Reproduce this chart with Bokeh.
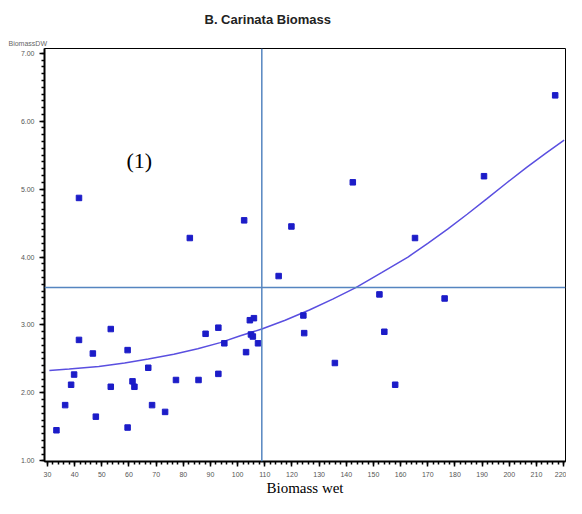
from bokeh.plotting import figure
from bokeh.models import Span, Label, SingleIntervalTicker, Range1d, Title
from bokeh.embed import file_html
from bokeh.resources import INLINE

# observed points: wet biomass vs dry biomass
wet = [33.3, 36.5, 38.7, 39.8, 41.6, 41.6, 46.7, 47.8, 53.3, 53.3, 59.5, 59.5,
       61.3, 62.0, 67.1, 68.5, 73.3, 77.3, 82.4, 85.6, 88.2, 92.9, 92.9, 95.1,
       102.4, 103.1, 104.5, 106.0, 104.9, 105.6, 107.5, 115.1, 119.8, 124.2,
       124.5, 135.8, 142.4, 152.2, 154.0, 158.0, 165.3, 176.2, 190.7, 216.9]
dry = [1.45, 1.82, 2.12, 2.27, 2.78, 4.87, 2.58, 1.65, 2.94, 2.09, 2.63, 1.49,
       2.17, 2.09, 2.37, 1.82, 1.72, 2.19, 4.28, 2.19, 2.87, 2.96, 2.28, 2.73,
       4.54, 2.60, 3.07, 3.10, 2.86, 2.83, 2.73, 3.72, 4.45, 3.14,
       2.88, 2.44, 5.10, 3.45, 2.90, 2.12, 4.28, 3.39, 5.19, 6.38]

# fitted curve
fit_x = [30.7, 38.0, 48.9, 58.4, 67.1, 76.5, 85.3, 93.6, 101.0, 108.9, 117.5,
         126.4, 135.0, 143.5, 153.0, 162.7, 170.0, 177.3, 184.5, 191.8, 199.0,
         206.4, 213.5, 220.2]
fit_y = [2.33, 2.35, 2.39, 2.44, 2.50, 2.57, 2.65, 2.74, 2.84, 2.94, 3.07,
         3.22, 3.38, 3.55, 3.77, 4.00, 4.20, 4.41, 4.63, 4.86, 5.09,
         5.32, 5.53, 5.72]

# reference lines
ref_x = [108.9]
ref_y = [3.55]

y_ticks = [1, 2, 3, 4, 5, 6, 7]
y_tick_labels = ["1.00", "2.00", "3.00", "4.00", "5.00", "6.00", "7.00"]

p = figure(width=566, height=498, output_backend="svg", toolbar_location=None,
           x_range=Range1d(28.9, 220.7), y_range=Range1d(0.99, 7.07),
           min_border_left=44, min_border_right=1, min_border_bottom=36,
           min_border_top=4)

t_small = Title(text="BiomassDW", text_font="Liberation Sans",
                text_font_size="7px", text_font_style="normal",
                text_color="#666666", align="left", offset=-36, standoff=3)
t_main = Title(text="B. Carinata Biomass", text_font="Liberation Sans",
               text_font_size="13px", text_font_style="bold",
               text_color="#222222", align="left", offset=160, standoff=19)
p.add_layout(t_small, "above")
p.add_layout(t_main, "above")

p.grid.visible = False
p.outline_line_color = "black"
p.outline_line_width = 1
p.background_fill_color = "white"
p.border_fill_color = "white"

p.xaxis.ticker = SingleIntervalTicker(interval=10, num_minor_ticks=5)
p.yaxis.ticker = SingleIntervalTicker(interval=1, num_minor_ticks=10)
p.yaxis.major_label_overrides = {t: l for t, l in zip(y_ticks, y_tick_labels)}

for ax in (p.xaxis[0], p.yaxis[0]):
    ax.axis_line_color = "black"
    ax.axis_line_width = 2
    ax.major_tick_line_color = "black"
    ax.minor_tick_line_color = "black"
    ax.major_tick_out = 5
    ax.major_tick_in = 0
    ax.minor_tick_out = 3
    ax.minor_tick_in = 0
    ax.major_tick_line_width = 1.5
    ax.minor_tick_line_width = 1.5
    ax.major_label_text_font = "Liberation Sans"
    ax.major_label_text_font_size = "7px"
    ax.major_label_text_color = "#555555"

p.yaxis.major_label_standoff = 5
p.xaxis.major_label_standoff = 5
p.xaxis.axis_label = "Biomass wet"
p.xaxis.axis_label_text_font = "Liberation Serif"
p.xaxis.axis_label_text_font_size = "15px"
p.xaxis.axis_label_text_font_style = "normal"
p.xaxis.axis_label_text_color = "black"
p.xaxis.axis_label_standoff = 0

p.add_layout(Span(location=ref_y[0], dimension="width", line_color="#5585c0",
                  line_width=1.5))
p.add_layout(Span(location=ref_x[0], dimension="height", line_color="#5585c0",
                  line_width=1.5))

p.line(fit_x, fit_y, line_color="#5a4fe0", line_width=1.5)
p.scatter(wet, dry, marker="square", size=5.5, fill_color="#1c1cc8",
          line_color="#1c1cc8")

p.add_layout(Label(x=63.8, y=5.42, text="(1)", text_font="Liberation Serif",
                   text_font_size="22px", text_align="center",
                   text_baseline="middle", text_color="black"))

open("out.html", "w").write(file_html(p, INLINE))
